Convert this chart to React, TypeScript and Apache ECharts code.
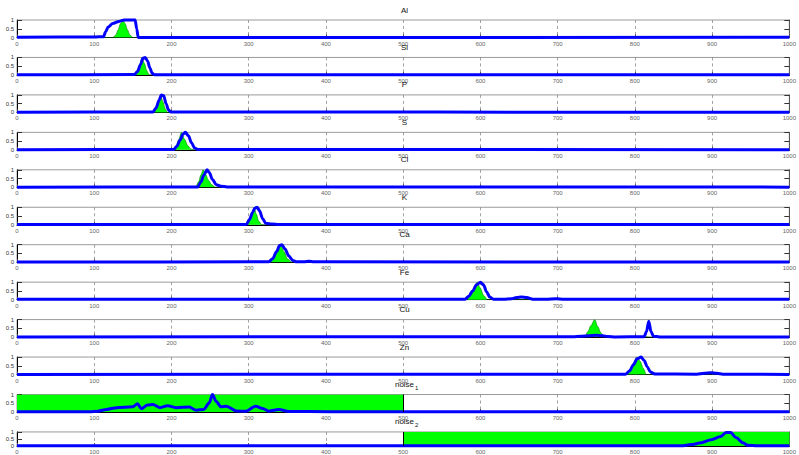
import React, { useEffect, useRef } from "react";
import * as echarts from "echarts";

const titles = ["Al", "Si", "P", "S", "Cl", "K", "Ca", "Fe", "Cu", "Zn", "noise_1", "noise_2"];
const xTicks = [0, 100, 200, 300, 400, 500, 600, 700, 800, 900, 1000];
const yTicks = ["0", "0.5", "1"];

const alGreen = [[0,0],[124,0],[128,0.15],[131,0.45],[134,0.8],[137,1],[140,0.8],[143,0.45],[146,0.15],[150,0],[1000,0]];
const alBlue = [[0,0.02],[100,0.03],[112,0.05],[115,0.35],[118,0.6],[124,0.8],[132,0.92],[139,1],[153,1],[155,0.5],[157,0],[1000,0.01]];
const siGreen = [[0,0],[153,0],[156,0.2],[159,0.6],[162,1],[165,0.65],[168,0.25],[171,0],[1000,0]];
const siBlue = [[0,0.01],[152,0.02],[156,0.2],[160,0.6],[163,0.95],[166,1],[169,0.8],[172,0.4],[175,0.1],[178,0.01],[1000,0.01]];
const pGreen = [[0,0],[177,0],[180,0.2],[183,0.6],[186,1],[189,0.6],[192,0.2],[195,0],[1000,0]];
const pBlue = [[0,0.01],[176,0.02],[180,0.25],[184,0.7],[187,1],[190,0.95],[193,0.5],[196,0.15],[199,0.02],[1000,0.01]];
const sGreen = [[0,0],[202,0],[206,0.2],[209,0.55],[213,1],[217,0.6],[221,0.25],[225,0.05],[230,0],[1000,0]];
const sBlue = [[0,0.01],[203,0.02],[207,0.2],[211,0.55],[215,0.9],[218,1],[222,0.8],[226,0.4],[230,0.1],[234,0.02],[1000,0.01]];
const clGreen = [[0,0],[231,0],[235,0.3],[238,0.7],[241,1],[244,0.75],[248,0.4],[252,0.15],[257,0],[1000,0]];
const clBlue = [[0,0.01],[234,0.02],[238,0.3],[242,0.7],[246,1],[249,0.85],[253,0.45],[258,0.15],[264,0.06],[272,0.02],[1000,0.01]];
const kGreen = [[0,0],[298,0],[301,0.2],[304,0.6],[307,1],[310,0.6],[313,0.2],[317,0],[1000,0]];
const kBlue = [[0,0.01],[297,0.02],[301,0.3],[305,0.7],[308,0.95],[311,1],[314,0.8],[318,0.35],[322,0.08],[330,0.04],[339,0.01],[1000,0.01]];
const caGreen = [[0,0],[327,0],[332,0.2],[336,0.6],[341,1],[346,0.6],[350,0.2],[356,0],[1000,0]];
const caBlue = [[0,0.01],[326,0.02],[331,0.2],[336,0.6],[340,0.95],[343,1],[347,0.75],[352,0.35],[357,0.1],[362,0.02],[372,0.02],[378,0.05],[384,0.02],[1000,0.01]];
const feGreen = [[0,0],[583,0],[587,0.25],[591,0.6],[596,1],[600,0.65],[604,0.25],[609,0],[1000,0]];
const feBlue = [[0,0.02],[580,0.02],[585,0.2],[590,0.5],[595,0.85],[600,1],[604,0.85],[608,0.45],[612,0.15],[617,0.03],[630,0.02],[640,0.05],[647,0.12],[653,0.15],[660,0.12],[668,0.03],[685,0.02],[698,0.05],[708,0.02],[1000,0.02]];
const cuGreen = [[0,0],[735,0],[739,0.3],[743,0.65],[748,1],[752,0.6],[756,0.25],[760,0],[810,0],[815,0.02],[820,0],[1000,0]];
const cuBlue = [[0,0.01],[720,0.02],[730,0.05],[740,0.08],[750,0.1],[758,0.08],[765,0.03],[775,0.01],[812,0.02],[815,0.3],[818,0.9],[821,0.3],[824,0.05],[832,0.01],[1000,0.01]];
const znGreen = [[0,0],[790,0],[794,0.3],[798,0.65],[803,1],[807,0.75],[811,0.35],[815,0],[1000,0]];
const znBlue = [[0,0.01],[788,0.02],[793,0.2],[798,0.55],[803,0.9],[808,1],[812,0.8],[816,0.45],[820,0.15],[826,0.03],[880,0.02],[890,0.07],[898,0.1],[906,0.07],[914,0.02],[1000,0.01]];
const noise1Green = [[0,1],[500,1],[500,0],[1000,0]];
const noise1Blue = [[0,0.02],[94,0.02],[105,0.05],[116,0.15],[129,0.25],[150,0.3],[156,0.47],[161,0.19],[169,0.4],[176,0.43],[185,0.25],[195,0.36],[206,0.25],[223,0.28],[232,0.1],[242,0.15],[249,0.53],[253,1],[258,0.6],[264,0.3],[271,0.33],[284,0.06],[296,0.04],[309,0.33],[318,0.2],[326,0.05],[339,0.14],[352,0.03],[404,0.02],[1000,0.02]];
const noise2Green = [[0,0],[500,0],[500,1],[1000,1]];
const noise2Blue = [[0,0.02],[860,0.02],[873,0.1],[886,0.23],[899,0.45],[911,0.67],[918,0.96],[924,0.96],[931,0.6],[940,0.23],[946,0.05],[959,0.02],[1000,0.02]];

const greens = [alGreen, siGreen, pGreen, sGreen, clGreen, kGreen, caGreen, feGreen, cuGreen, znGreen, noise1Green, noise2Green];
const blues = [alBlue, siBlue, pBlue, sBlue, clBlue, kBlue, caBlue, feBlue, cuBlue, znBlue, noise1Blue, noise2Blue];

const FONT = "'Liberation Sans', Arial, sans-serif";

export default function App() {
  const ref = useRef<HTMLDivElement>(null);
  useEffect(() => {
    if (!ref.current) return;
    const chart = echarts.init(ref.current, null, { renderer: "svg" });
    const left = 17;
    const width = 775;
    const h = 17.5;
    const step = 37.45;
    const cx = left + width / 2;
    const grids: any[] = [];
    const xAxes: any[] = [];
    const yAxes: any[] = [];
    const series: any[] = [];
    const graphics: any[] = [];
    titles.forEach((t, i) => {
      const top = 20 + i * step;
      grids.push({ left, width, top, height: h, show: true, borderColor: "#9a9a9a", borderWidth: 1, backgroundColor: "transparent" });
      xAxes.push({
        type: "value", gridIndex: i, min: xTicks[0], max: xTicks[xTicks.length - 1], interval: 100,
        axisLine: { show: true, lineStyle: { color: "#000", width: 1 } },
        axisTick: { show: true, inside: true, length: 3, lineStyle: { color: "#555" } },
        axisLabel: { fontSize: 6, color: "#666", margin: 3, fontFamily: FONT, formatter: (v: number) => String(v) },
        splitLine: { show: true, lineStyle: { color: "#8a8a8a", width: 0.8, type: [3, 3] } },
      });
      yAxes.push({
        type: "value", gridIndex: i, min: 0, max: 1, interval: 0.5, position: "left",
        axisLine: { show: true, lineStyle: { color: "#000", width: 1 } },
        axisTick: { show: true, inside: true, length: 5, lineStyle: { color: "#333" } },
        axisLabel: { fontSize: 6, color: "#333", margin: 3, fontFamily: FONT, formatter: (v: number) => yTicks[Math.round(v * 2)] },
        splitLine: { show: false },
      });
      yAxes.push({
        type: "value", gridIndex: i, min: 0, max: 1, interval: 0.5, position: "right",
        axisLine: { show: true, lineStyle: { color: "#555", width: 1 } },
        axisTick: { show: true, inside: true, length: 5, lineStyle: { color: "#333" } },
        axisLabel: { show: false },
        splitLine: { show: false },
      });
      const isNoise = t.startsWith("noise");
      const ty = top - 10;
      if (isNoise) {
        graphics.push({
          type: "text", x: cx, y: ty, z: 10,
          style: { text: "noise", fontSize: 8, fill: "#111", fontFamily: FONT, align: "center", verticalAlign: "middle" },
        });
        graphics.push({
          type: "text", x: cx + 10.5, y: ty + 3, z: 10,
          style: { text: t.slice(6), fontSize: 6, fill: "#111", fontFamily: FONT, align: "left", verticalAlign: "middle" },
        });
      } else {
        graphics.push({
          type: "text", x: cx, y: ty, z: 10,
          style: { text: t, fontSize: 8, fill: "#111", fontFamily: FONT, align: "center", verticalAlign: "middle" },
        });
      }
      const g: any = {
        type: "line", xAxisIndex: i, yAxisIndex: 2 * i, data: greens[i], showSymbol: false, symbol: "none",
        smooth: isNoise ? false : 0.3, smoothMonotone: "x",
        lineStyle: { width: isNoise ? 0 : 0.6, color: "#0a7a0a" },
        areaStyle: { color: "#00ff00", opacity: 1 }, z: 2, silent: true,
      };
      if (isNoise) {
        g.markLine = {
          silent: true, symbol: "none", label: { show: false },
          lineStyle: { color: "#000", width: 1, type: "solid" },
          data: [{ xAxis: 500 }],
        };
      }
      series.push(g);
      series.push({
        type: "line", xAxisIndex: i, yAxisIndex: 2 * i, data: blues[i], showSymbol: false, symbol: "none",
        smooth: 0.3, smoothMonotone: "x", clip: false,
        lineStyle: { width: 3, color: "#0000ff" }, z: 3, silent: true,
      });
    });
    chart.setOption({
      animation: false,
      backgroundColor: "#fff",
      graphic: graphics,
      grid: grids,
      xAxis: xAxes,
      yAxis: yAxes,
      series,
    });
    return () => chart.dispose();
  }, []);
  return <div ref={ref} style={{ position: "fixed", left: 0, top: 0, width: 799, height: 455 }} />;
}
